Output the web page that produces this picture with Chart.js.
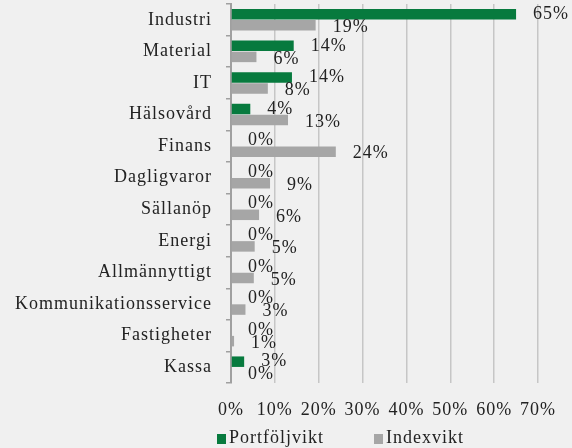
<!DOCTYPE html>
<html>
<head>
<meta charset="utf-8">
<script src="https://cdn.jsdelivr.net/npm/chart.js@4.4.1/dist/chart.umd.min.js"></script>
<style>
    html, body { margin: 0; padding: 0; background: #f0f0f0; }
    #wrap { position: relative; width: 572px; height: 448px; }
    canvas { display: block; }
    .legend-item {
        position: absolute; top: 427px; height: 22px; line-height: 22px;
        font: 18px "Liberation Serif", "Times New Roman", serif; letter-spacing: 1px; color: #222;
        white-space: nowrap;
    }
    .legend-item span {
        display: inline-block; width: 9px; height: 10px; margin-right: 3px; vertical-align: -1px;
    }
</style>
</head>
<body>
<div id="wrap">
    <canvas id="chart" width="572" height="448"></canvas>
</div>
<script>
// Sektorer (y-axel)
const categories = ['Industri', 'Material', 'IT', 'Hälsovård', 'Finans', 'Dagligvaror', 'Sällanöp',
    'Energi', 'Allmännyttigt', 'Kommunikationsservice', 'Fastigheter', 'Kassa'];

// Vikter i procent
const portfolioWeights = [65, 14.3, 13.9, 4.4, 0, 0, 0, 0, 0, 0, 0, 3];
const indexWeights = [19.3, 5.8, 8.4, 13, 23.9, 8.9, 6.4, 5.4, 5.2, 3.3, 0.7, 0];

// x-axelns skalsteg
const xMin = 0;
const xMax = 70;
const xStep = 10;

const serif = '"Liberation Serif", "Times New Roman", serif';
const textColor = '#222222';

// Garamond-liknande spärrning
const spacingPlugin = {
    id: 'spacing',
    beforeUpdate(chart) { chart.ctx.letterSpacing = '1px'; },
    beforeDraw(chart) { chart.ctx.letterSpacing = '1px'; }
};

// Dataetiketter till höger om staplarna
const barLabels = {
    id: 'barLabels',
    afterDatasetsDraw(chart) {
        const ctx = chart.ctx;
        ctx.save();
        ctx.font = '18px ' + serif;
        ctx.fillStyle = textColor;
        ctx.textAlign = 'left';
        ctx.textBaseline = 'middle';
        chart.data.datasets.forEach((ds, i) => {
            chart.getDatasetMeta(i).data.forEach((bar, j) => {
                // gråa etiketter sitter en aning lägre i originalet
                ctx.fillText(Math.round(ds.data[j]) + '%', bar.x + 17, bar.y + (i === 1 ? 2 : 0));
            });
        });
        ctx.restore();
    }
};

const chart = new Chart(document.getElementById('chart'), {
    type: 'bar',
    data: {
        labels: categories,
        datasets: [
            {
                label: 'Portföljvikt',
                data: portfolioWeights,
                backgroundColor: '#077a3e',
                categoryPercentage: 0.7,
                barPercentage: 0.95
            },
            {
                label: 'Indexvikt',
                data: indexWeights,
                backgroundColor: '#a6a6a6',
                categoryPercentage: 0.7,
                barPercentage: 0.95
            }
        ]
    },
    options: {
        indexAxis: 'y',
        responsive: false,
        animation: false,
        layout: {
            padding: { left: 0, right: 34, top: 4, bottom: 0 }
        },
        plugins: {
            tooltip: { enabled: false },
            legend: { display: false }
        },
        scales: {
            x: {
                min: xMin,
                max: xMax,
                afterFit(scale) { scale.height = 65; },
                ticks: {
                    stepSize: xStep,
                    padding: 16,
                    color: textColor,
                    font: { family: serif, size: 18 },
                    callback: v => v + '%'
                },
                grid: {
                    color: '#c6c6c6',
                    lineWidth: 1.5,
                    drawTicks: false
                },
                border: { display: false }
            },
            y: {
                afterFit(scale) {
                    scale.width = 231;
                    scale.paddingTop = 0;
                    scale.paddingBottom = 0;
                },
                ticks: {
                    padding: 14,
                    color: textColor,
                    font: { family: serif, size: 18 }
                },
                grid: {
                    drawOnChartArea: false,
                    tickLength: 5,
                    color: '#a0a0a0',
                    lineWidth: 1.5
                },
                border: { color: '#a0a0a0', width: 2 }
            }
        }
    },
    plugins: [spacingPlugin, barLabels]
});

// Förklaring under diagrammet
const legendLeft = [217, 374];
chart.data.datasets.forEach((ds, i) => {
    const item = document.createElement('div');
    item.className = 'legend-item';
    item.style.left = legendLeft[i] + 'px';
    const box = document.createElement('span');
    box.style.background = ds.backgroundColor;
    item.appendChild(box);
    item.appendChild(document.createTextNode(ds.label));
    document.getElementById('wrap').appendChild(item);
});
</script>
</body>
</html>
